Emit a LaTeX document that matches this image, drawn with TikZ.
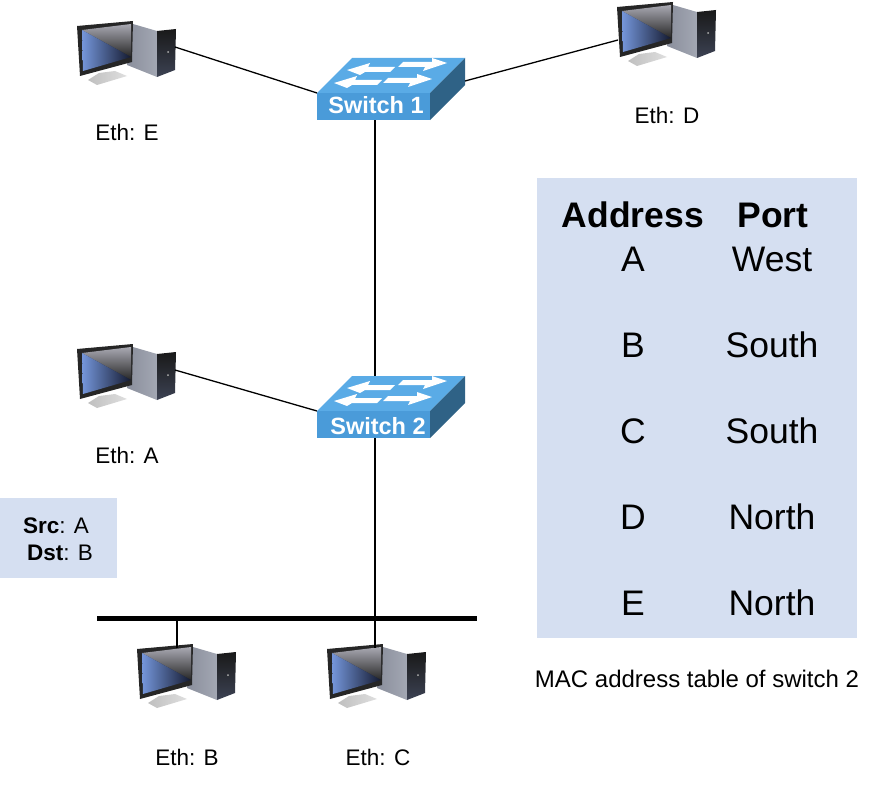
\documentclass[tikz,border=0pt]{standalone}
\usepackage{fontspec}
\setmainfont{Liberation Sans}
\usetikzlibrary{positioning}

\definecolor{tablebg}{HTML}{D5DFF1}
\definecolor{swfront}{HTML}{4A9BD9}
\definecolor{swtop}{HTML}{5AABE6}
\definecolor{swside}{HTML}{2F6286}
\definecolor{scrblue}{HTML}{7596DA}
\definecolor{scrdark}{HTML}{141A30}
\definecolor{scrgray}{HTML}{A9A9B2}
\definecolor{towerlo}{HTML}{8A8F9C}
\definecolor{towerhi}{HTML}{A3A7B3}
\definecolor{towerfront}{HTML}{3C4253}

\tikzset{
	wire/.style={draw=black, line width=1.3pt},
	bus/.style={draw=black, line width=5pt},
	ethlabel/.style={font=\fontsize{22.5}{26}\selectfont},
	capt/.style={font=\fontsize{24}{28}\selectfont},
	cell/.style={font=\fontsize{35.5}{40}\selectfont},
	swlabel/.style={font=\fontsize{23.5}{26}\selectfont\bfseries, text=white},
	pc/.pic={
		% tower
		\shade[left color=towerlo, right color=towerhi] (73,24) -- (97,31) -- (97,77) -- (67,65) -- cycle;
		\shade[top color=black!90, bottom color=towerfront] (97,31) -- (116,29) -- (115,70) -- (97,77) -- cycle;
		\fill[gray!60] (108,52) circle (1pt);
		% stand
		\shade[left color=gray!50, right color=gray!25] (28,80) -- (39,73) -- (55,71) -- (67,76) -- (37,85) -- cycle;
		% monitor
		\fill[black!85] (17,26) -- (73,21) -- (72,62) -- (20,76) -- cycle;
		\shade[top color=scrgray, bottom color=black!85] (22,30) -- (71,24) -- (71,57) -- cycle;
		\shade[left color=scrblue, right color=scrdark] (22,30) -- (71,57) -- (23,71) -- cycle;
		\coordinate (-tower) at (115,47);
		\coordinate (-left) at (18,59);
		\coordinate (-top) at (65,25);
	},
	switchbox/.pic={
		\fill[swtop] (0,0) -- (35,-35) -- (148,-35) -- (113,0) -- cycle;
		\fill[swside] (113,0) -- (148,-35) -- (148,-8) -- (113,27) -- cycle;
		\fill[swfront] (0,0) rectangle (113,27);
		% arrows on the top face
		\foreach \dx/\dy in {0/0, -13/13}
			\fill[white, shift={(\dx,\dy)}] (30,-23) -- (53,-30) -- (51,-26) -- (78,-26) -- (73,-21) -- (48,-21) -- (43,-18) -- cycle;
		\foreach \dx/\dy in {0/0, -15/16}
			\fill[white, shift={(\dx,\dy)}] (130,-30) -- (115,-35) -- (115,-31) -- (86,-31) -- (81,-26) -- (108,-26) -- (106,-22) -- cycle;
		\coordinate (-west) at (0,0);
		\coordinate (-east) at (148,-12);
		\coordinate (-north) at (58,-35);
		\coordinate (-south) at (58,27);
	},
}

\begin{document}
\begin{tikzpicture}[x=1pt, y=-1pt]
	\useasboundingbox (0,0) rectangle (892,808);

	% mac table and frame boxes
	\fill[tablebg] (537,178) rectangle (857,638);
	\fill[tablebg] (0,498) rectangle (117,578);

	% hosts
	\pic (pcE) at (60,0) {pc};
	\pic (pcD) at (600,-19) {pc};
	\pic (pcA) at (60,323) {pc};
	\pic (pcB) at (120,623) {pc};
	\pic (pcC) at (310,623) {pc};

	% switches
	\coordinate (busW) at (97,618);
	\coordinate (busE) at (477,618);
	\coordinate (busB) at (177,618);
	\pic (swOne) at (317,93) {switchbox};
	\pic (swTwo) at (317,411) {switchbox};
	\node[swlabel] (swOneLabel) at (376,105) {Switch 1};
	\node[swlabel] (swTwoLabel) at (378,426) {Switch 2};

	% links
	\draw[wire] (pcE-tower) -- (swOne-west);
	\draw[wire] (pcD-left) -- (swOne-east);
	\draw[wire] (pcA-tower) -- (swTwo-west);
	\draw[wire] (swOne-south) -- (swTwo-north);
	\draw[wire] (swTwo-south) -- (swTwo-south |- pcC-top);
	\draw[bus] (busW) -- (busE);
	\draw[wire] (busB) -- (busB |- pcB-top);

	% host labels
	\node[ethlabel] (ethE) at (127,132) {Eth: E};
	\node[ethlabel] (ethD) at (667,115) {Eth: D};
	\node[ethlabel] (ethA) at (127,455) {Eth: A};
	\node[ethlabel] (ethB) at (187,757) {Eth: B};
	\node[ethlabel] (ethC) at (378,757) {Eth: C};

	\node[ethlabel] (src) at (56,526) {\textbf{Src}: A};
	\node[ethlabel] (dst) at (60,553) {\textbf{Dst}: B};

	% table
	\node[cell] (hAddr) at (633,215) {\textbf{Address}};
	\node[cell] (hPort) at (773,215) {\textbf{Port}};
	\node[cell] (addrA) at (633,259) {A};
	\node[cell] (portA) at (772,259) {West};
	\node[cell] (addrB) at (633,345) {B};
	\node[cell] (portB) at (772,345) {South};
	\node[cell] (addrC) at (633,431) {C};
	\node[cell] (portC) at (772,431) {South};
	\node[cell] (addrD) at (633,517) {D};
	\node[cell] (portD) at (772,517) {North};
	\node[cell] (addrE) at (633,603) {E};
	\node[cell] (portE) at (772,603) {North};
	\node[capt] (caption) at (697,679) {MAC address table of switch 2};
\end{tikzpicture}
\end{document}
